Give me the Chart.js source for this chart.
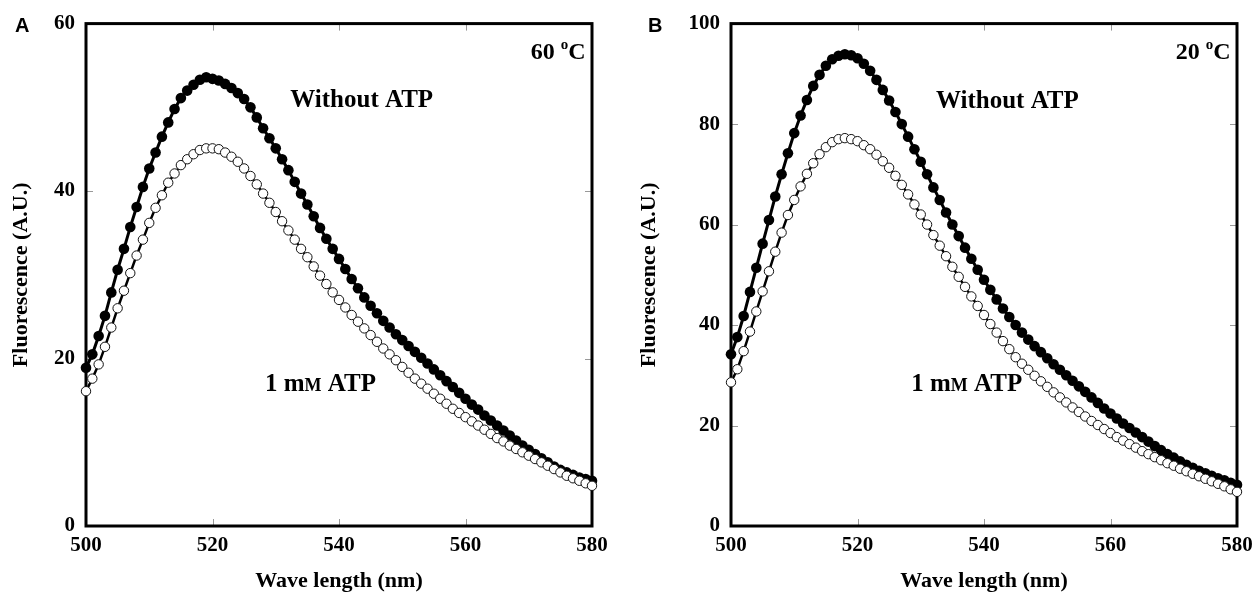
<!DOCTYPE html>
<html><head><meta charset="utf-8">
<script src="https://cdn.jsdelivr.net/npm/chart.js@4.4.1/dist/chart.umd.min.js"></script>
<style>
body{margin:0;background:#fff;width:1253px;height:601px;overflow:hidden;position:relative}
canvas{position:absolute;top:0}
#cA{left:0}
#cB{left:626px}
</style></head><body>
<canvas id="cA" width="626" height="601"></canvas>
<canvas id="cB" width="660" height="601"></canvas>
<script>
// ---- Data ----
const wavelengths = [500,501,502,503,504,505,506,507,508,509,510,511,512,513,514,515,516,517,518,519,520,
521,522,523,524,525,526,527,528,529,530,531,532,533,534,535,536,537,538,539,540,
541,542,543,544,545,546,547,548,549,550,551,552,553,554,555,556,557,558,559,560,
561,562,563,564,565,566,567,568,569,570,571,572,573,574,575,576,577,578,579,580];

// Panel A (60 °C)
const aWithoutATP = [18.9,20.5,22.7,25.1,27.9,30.6,33.1,35.7,38.1,40.5,42.7,44.6,46.5,48.2,49.8,51.1,52.0,52.7,53.3,53.6,53.4,
53.2,52.8,52.3,51.7,51.0,50.0,48.8,47.5,46.3,45.1,43.8,42.5,41.1,39.7,38.4,37.0,35.6,34.3,33.1,31.9,
30.7,29.5,28.4,27.3,26.3,25.4,24.5,23.7,22.9,22.2,21.5,20.8,20.1,19.4,18.7,18.0,17.3,16.6,15.9,15.2,
14.5,13.9,13.2,12.6,12.0,11.4,10.8,10.2,9.6,9.1,8.6,8.1,7.6,7.1,6.7,6.4,6.1,5.8,5.6,5.4];
const a1mMATP = [16.1,17.6,19.3,21.4,23.7,26.0,28.1,30.2,32.3,34.2,36.2,38.0,39.5,41.0,42.1,43.1,43.8,44.4,44.9,45.1,45.1,
45.0,44.6,44.1,43.5,42.7,41.8,40.8,39.7,38.6,37.5,36.4,35.3,34.2,33.1,32.1,31.0,29.9,28.9,27.9,27.0,
26.1,25.2,24.4,23.6,22.8,22.0,21.2,20.5,19.8,19.0,18.3,17.6,17.0,16.4,15.8,15.2,14.6,14.0,13.5,13.0,
12.5,12.0,11.5,11.0,10.5,10.1,9.6,9.2,8.8,8.4,8.0,7.6,7.2,6.8,6.4,6.0,5.7,5.4,5.1,4.8];

// Panel B (20 °C)
const bWithoutATP = [34.2,37.6,41.8,46.6,51.4,56.2,60.9,65.6,70.0,74.2,78.2,81.7,84.8,87.6,89.8,91.6,92.9,93.6,93.9,93.7,93.1,
92.0,90.6,88.8,86.8,84.7,82.4,80.0,77.5,75.0,72.5,70.0,67.4,64.9,62.4,60.0,57.7,55.4,53.2,51.0,49.0,
47.0,45.1,43.3,41.6,40.0,38.5,37.1,35.8,34.6,33.4,32.2,31.1,30.0,28.9,27.8,26.7,25.6,24.5,23.4,22.4,
21.4,20.4,19.5,18.6,17.7,16.8,15.9,15.1,14.3,13.6,12.9,12.2,11.6,11.0,10.5,10.0,9.5,9.1,8.6,8.2];
const b1mMATP = [28.6,31.2,34.8,38.7,42.7,46.7,50.7,54.6,58.4,61.9,64.9,67.6,70.1,72.2,74.0,75.4,76.4,77.0,77.2,77.0,76.6,
75.8,75.0,73.9,72.6,71.3,69.7,67.9,66.0,64.0,62.0,60.0,57.9,55.8,53.7,51.6,49.6,47.6,45.7,43.8,42.0,
40.2,38.5,36.8,35.2,33.6,32.3,31.1,29.9,28.8,27.7,26.6,25.6,24.6,23.6,22.7,21.8,20.9,20.1,19.3,18.5,
17.7,17.0,16.3,15.6,14.9,14.3,13.7,13.1,12.5,12.0,11.4,10.9,10.4,9.9,9.4,8.9,8.4,7.9,7.3,6.8];

const xTicksStep = 20;
const yTicksA = {max: 60, step: 20};
const yTicksB = {max: 100, step: 20};

// ---- Rendering ----
const SERIF = '"Liberation Serif", "Times New Roman", serif';
const SANS = '"Liberation Sans", Arial, sans-serif';

function pts(ys){ return wavelengths.map((x,i)=>({x:x, y:ys[i]})); }

const framePlugin = {
  id:'frame',
  beforeDatasetsDraw(chart){
    const {ctx, chartArea:a, scales} = chart;
    ctx.save();
    ctx.strokeStyle = '#999'; ctx.lineWidth = 1;
    const tl = 7;
    scales.x.ticks.forEach(t=>{
      const px = Math.round(scales.x.getPixelForValue(t.value)) + 0.5;
      if (px < a.left+3 || px > a.right-3) return;
      ctx.beginPath();
      ctx.moveTo(px, a.bottom); ctx.lineTo(px, a.bottom - tl);
      ctx.moveTo(px, a.top); ctx.lineTo(px, a.top + tl);
      ctx.stroke();
    });
    scales.y.ticks.forEach(t=>{
      const py = Math.round(scales.y.getPixelForValue(t.value)) + 0.5;
      if (py < a.top+3 || py > a.bottom-3) return;
      ctx.beginPath();
      ctx.moveTo(a.left, py); ctx.lineTo(a.left + tl, py);
      ctx.moveTo(a.right, py); ctx.lineTo(a.right - tl, py);
      ctx.stroke();
    });
    ctx.strokeStyle = '#000'; ctx.lineWidth = 3;
    ctx.strokeRect(a.left, a.top, a.right - a.left, a.bottom - a.top);
    ctx.restore();
  },
  afterDraw(chart, args, opts){
    const {ctx, scales} = chart;
    ctx.save();
    ctx.fillStyle = '#000';
    ctx.textBaseline = 'alphabetic';
    // panel letter
    ctx.font = 'bold 20px ' + SANS;
    ctx.textAlign = 'left';
    ctx.fillText(opts.letter, opts.letterX, 32);
    // temperature label (right aligned)
    const tx = scales.x.getPixelForValue(opts.temp.x);
    const ty = scales.y.getPixelForValue(opts.temp.y);
    const big = 'bold 24px ' + SERIF, sup = 'bold 15px ' + SERIF;
    ctx.font = big;
    const wNum = ctx.measureText(opts.temp.num + ' ').width;
    const wC = ctx.measureText('C').width;
    ctx.font = sup;
    const wO = ctx.measureText('o').width;
    let x0 = tx - (wNum + wO + wC);
    ctx.font = big;
    ctx.fillText(opts.temp.num + ' ', x0, ty);
    ctx.font = sup;
    ctx.fillText('o', x0 + wNum, ty - 10);
    ctx.font = big;
    ctx.fillText('C', x0 + wNum + wO, ty);
    // Without ATP
    ctx.font = 'bold 25px ' + SERIF;
    ctx.fillText('Without ATP', scales.x.getPixelForValue(opts.without.x), scales.y.getPixelForValue(opts.without.y));
    // 1 mM ATP with small-cap M
    let lx = scales.x.getPixelForValue(opts.atp.x);
    const ly = scales.y.getPixelForValue(opts.atp.y);
    ctx.font = 'bold 25px ' + SERIF;
    ctx.fillText('1 m', lx, ly); lx += ctx.measureText('1 m').width;
    ctx.font = 'bold 18px ' + SERIF;
    ctx.fillText('M', lx, ly); lx += ctx.measureText('M').width;
    ctx.font = 'bold 25px ' + SERIF;
    ctx.fillText(' ATP', lx, ly);
    ctx.restore();
  }
};

function makePanel(id, withoutData, atpData, yInfo, geom, ann){
  new Chart(document.getElementById(id), {
    type:'line',
    data:{datasets:[
      {label:'1 mM ATP', data:pts(atpData), order:0, borderColor:'#000', borderWidth:2.5,
       pointRadius:4.7, pointBackgroundColor:'#fff', pointBorderColor:'#111', pointBorderWidth:1,
       tension:0, clip:false, fill:false},
      {label:'Without ATP', data:pts(withoutData), order:1, borderColor:'#000', borderWidth:3,
       pointRadius:5.3, pointBackgroundColor:'#000', pointBorderColor:'#000', pointBorderWidth:0,
       tension:0, clip:false, fill:false}
    ]},
    options:{
      responsive:false, animation:false, events:[],
      layout:{padding:{left:0, right:geom.rightPad, top:21, bottom:0}},
      plugins:{legend:{display:false}, tooltip:{enabled:false}, frame:ann},
      scales:{
        x:{type:'linear', min:500, max:580,
           ticks:{stepSize:xTicksStep, color:'#000', padding:7, maxRotation:0,
                  font:{family:SERIF, weight:'bold', size:21}},
           grid:{display:false, drawTicks:false}, border:{display:false},
           title:{display:true, text:'Wave length (nm)', color:'#000',
                  font:{family:SERIF, weight:'bold', size:22}, padding:{top:0, bottom:6}},
           afterFit:s=>{s.height = 75;}},
        y:{type:'linear', min:0, max:yInfo.max,
           ticks:{stepSize:yInfo.step, color:'#000', padding:11,
                  font:{family:SERIF, weight:'bold', size:21}},
           grid:{display:false, drawTicks:false}, border:{display:false},
           title:{display:true, text:'Fluorescence (A.U.)', color:'#000',
                  font:{family:SERIF, weight:'bold', size:22}, padding:{top:geom.titlePad, bottom:0}},
           afterFit:s=>{s.width = geom.yWidth;}}
      }
    },
    plugins:[framePlugin]
  });
}

makePanel('cA', aWithoutATP, a1mMATP, yTicksA, {rightPad:34, yWidth:86, titlePad:8},
  {letter:'A', letterX:15, temp:{num:'60', x:579, y:55.8}, without:{x:532.3, y:50.0}, atp:{x:528.3, y:16.1}});
makePanel('cB', bWithoutATP, b1mMATP, yTicksB, {rightPad:49, yWidth:105, titlePad:10},
  {letter:'B', letterX:22, temp:{num:'20', x:579, y:93.0}, without:{x:532.4, y:83.3}, atp:{x:528.5, y:26.8}});
</script>
</body></html>
